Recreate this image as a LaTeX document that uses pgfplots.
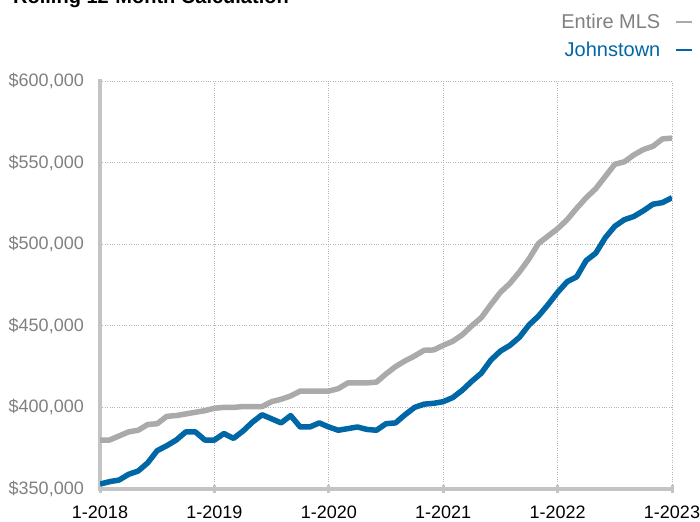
\documentclass[border=0pt]{standalone}
\usepackage{pgfplots}
\pgfplotsset{compat=1.18}
\usepackage{fontspec}
\setmainfont{Liberation Sans}
\definecolor{mlsgray}{HTML}{AAAAAA}
\definecolor{mlstext}{HTML}{808080}
\definecolor{jblue}{HTML}{0067A6}
\definecolor{axgray}{HTML}{C4C4C4}
\definecolor{gridgray}{HTML}{B4B4B4}
\begin{document}
\begin{tikzpicture}[x=1pt,y=1pt]
\node[anchor=base west, inner sep=0pt, font=\fontsize{20}{24}\selectfont\bfseries] at (13,517) {Rolling 12-Month Calculation};
\begin{axis}[
  at={(100pt,32pt)}, anchor=south west,
  scale only axis, width=572pt, height=408pt,
  xmin=0, xmax=60, ymin=350000, ymax=600000,
  scaled y ticks=false,
  axis x line*=bottom, axis y line*=left,
  axis line style={axgray, line width=4pt, line cap=rect},
  xtick={0,12,24,36,48,60},
  xticklabels={1-2018,1-2019,1-2020,1-2021,1-2022,1-2023},
  ytick={350000,400000,450000,500000,550000,600000},
  yticklabels={{\$350,000},{\$400,000},{\$450,000},{\$500,000},{\$550,000},{\$600,000}},
  xmajorgrids, ymajorgrids,
  grid style={gridgray, dotted, line width=0.9pt},
  x tick style={axgray, line width=3pt},
  major tick length=8pt,
  xtick align=center,
  ytick style={draw=none},
  xticklabel style={font=\fontsize{18}{21}\selectfont, text=black, inner sep=0pt, anchor=north, yshift=-13pt},
  yticklabel style={font=\fontsize{18}{21}\selectfont, text=mlstext, inner sep=0pt, anchor=east, xshift=-16pt},
  legend plot pos=right,
  legend cell align=right,
  legend style={draw=none, fill=none, at={(1.042,1.175)}, anchor=north east,
    font=\fontsize{20}{24}\selectfont, row sep=8pt,
    /tikz/every odd column/.append style={column sep=13pt}},
  legend image code/.code={\draw[line width=1.5pt] (0pt,0pt) -- (16pt,0pt);},
  every axis plot/.append style={line width=5.5pt, line join=round},
]
\addplot[mlsgray, no marks] coordinates {
(0,380000)(1,380000)(2,382500)(3,385000)(4,386000)(5,389500)(6,390000)(7,394500)(8,395000)(9,396000)
(10,397000)(11,398000)(12,399500)(13,400000)(14,400000)(15,400500)(16,400500)(17,400500)(18,403500)(19,405000)
(20,407000)(21,410000)(22,410000)(23,410000)(24,410000)(25,411500)(26,415000)(27,415000)(28,415000)(29,415500)
(30,420500)(31,425000)(32,428500)(33,431500)(34,435000)(35,435200)(36,438000)(37,440500)(38,444500)(39,450000)
(40,455000)(41,463000)(42,470500)(43,476000)(44,483000)(45,491000)(46,500500)(47,505000)(48,509500)(49,515000)
(50,522000)(51,528500)(52,534000)(53,541500)(54,549000)(55,550500)(56,554700)(57,558000)(58,560000)(59,564500)
(60,565000)};
\addlegendentry{\textcolor{mlstext}{Entire MLS}}
\addplot[jblue, no marks] coordinates {
(0,353000)(1,354500)(2,355500)(3,359000)(4,361000)(5,366000)(6,373500)(7,376500)(8,380000)(9,385000)
(10,385000)(11,380000)(12,380000)(13,384000)(14,381000)(15,385500)(16,391000)(17,395500)(18,393000)(19,390500)
(20,395000)(21,388000)(22,388000)(23,390500)(24,388000)(25,386000)(26,387000)(27,388000)(28,386500)(29,386000)
(30,390000)(31,390500)(32,395500)(33,400000)(34,402000)(35,402500)(36,403500)(37,406000)(38,410500)(39,416000)
(40,421000)(41,429000)(42,434500)(43,438000)(44,443000)(45,450500)(46,456000)(47,463000)(48,470500)(49,477000)
(50,480000)(51,490000)(52,494500)(53,504000)(54,511000)(55,515000)(56,517000)(57,520500)(58,524500)(59,525500)
(60,528500)};
\addlegendentry{\textcolor{jblue}{Johnstown}}
\end{axis}
\pgfresetboundingbox
\useasboundingbox (0,0) rectangle (700,521);
\end{tikzpicture}
\end{document}
